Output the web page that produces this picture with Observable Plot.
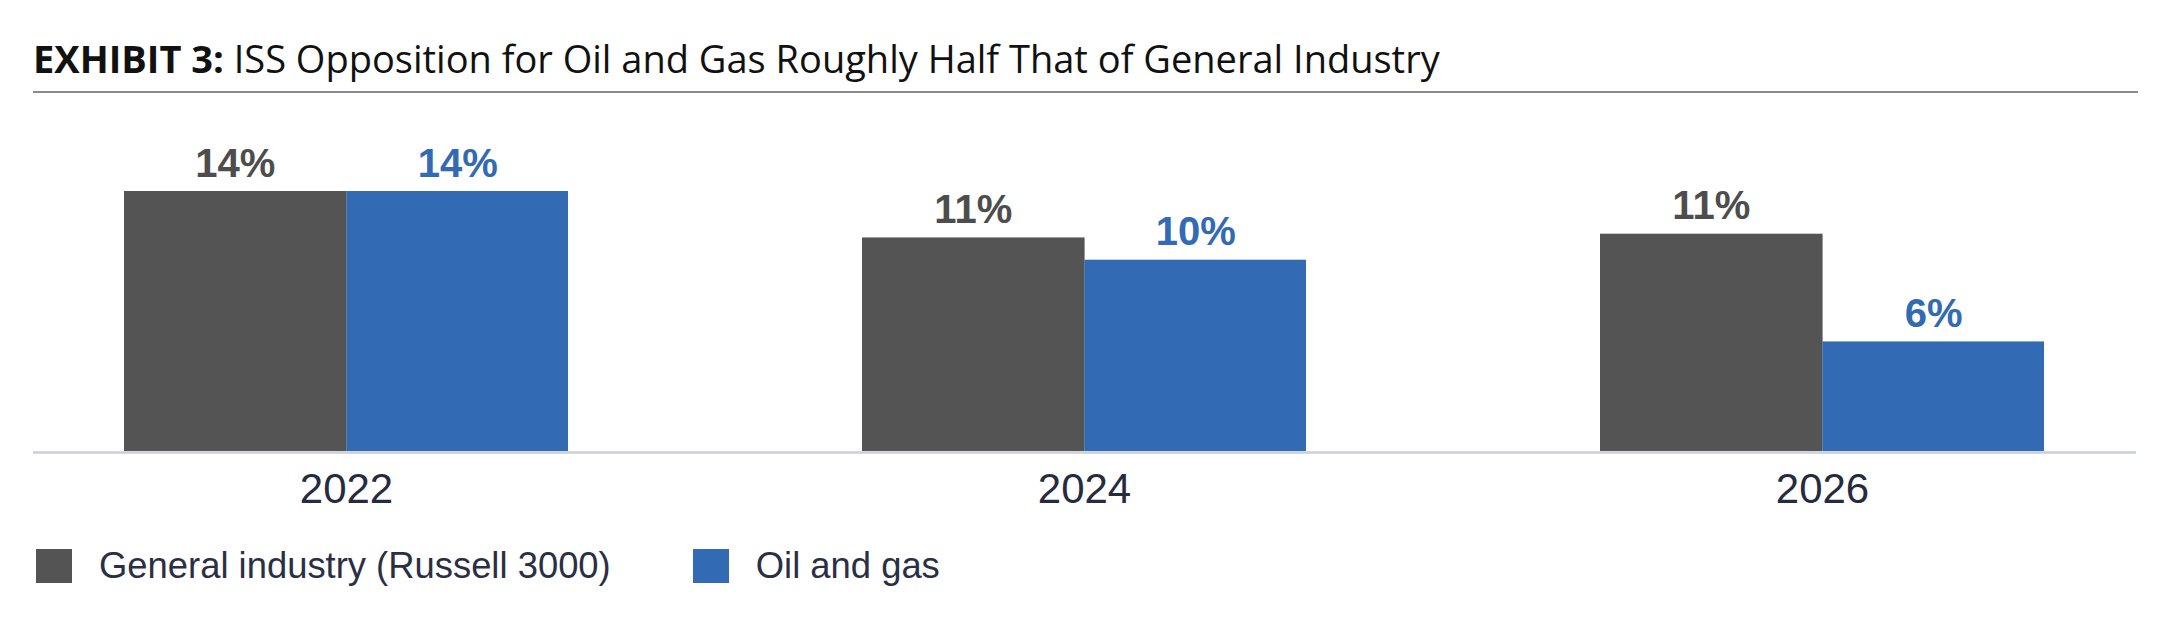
<!DOCTYPE html>
<html><head><meta charset="utf-8">
<script src="https://cdn.jsdelivr.net/npm/d3@7"></script>
<script src="https://cdn.jsdelivr.net/npm/@observablehq/plot@0.6"></script>
<style>
html,body{margin:0;padding:0;background:#fff;width:2170px;height:620px;overflow:hidden;position:relative}
#title{position:absolute;left:33px;top:39px;font-family:"Open Sans",sans-serif;font-size:38px;line-height:1;color:#111;white-space:nowrap}
#title b{font-weight:700}
#rule{position:absolute;left:33px;top:91px;width:2105px;height:2px;background:#8a8a8a}
#chart{position:absolute;left:0;top:100px}
#legend{position:absolute;left:36px;top:545px}
.leg-swatches{font-family:"Liberation Sans",Arial,sans-serif;font-size:36.4px;color:#2b2f45;margin:0;display:flex;align-items:center}
.leg-swatch{margin-right:82px}
.leg-swatch > svg{margin-right:27px}
</style>
</head><body>
<div id="title"><b>EXHIBIT 3:</b> ISS Opposition for Oil and Gas Roughly Half That of General Industry</div>
<div id="rule"></div>
<div id="chart"></div>
<div id="legend"></div>
<script>
const years = ["2022", "2024", "2026"];
const series = ["General industry (Russell 3000)", "Oil and gas"];
const general = [14, 11.5, 11.7];
const oil = [14, 10.3, 5.9];
const generalLabels = ["14%", "11%", "11%"];
const oilLabels = ["14%", "10%", "6%"];
const colors = ["#545454", "#336ab4"];
const labelColors = ["#4d4d4d", "#336ab4"];

const gen = years.map((year, i) => ({year, series: series[0], value: general[i], label: generalLabels[i]}));
const og = years.map((year, i) => ({year, series: series[1], value: oil[i], label: oilLabels[i]}));

const W = 2170, ML = 33, MR = 34, PI = 0.398, PO = 0.122;
const bw = d3.scaleBand().domain(years).range([ML, W - MR]).paddingInner(PI).paddingOuter(PO).bandwidth();
const half = bw / 2;

const chart = Plot.plot({
  width: W,
  height: 431,
  marginLeft: ML,
  marginRight: MR,
  marginTop: 91,
  marginBottom: 80,
  style: {fontFamily: '"Liberation Sans", Arial, sans-serif', background: "white", overflow: "visible"},
  x: {domain: years, paddingInner: PI, paddingOuter: PO, label: null},
  y: {domain: [0, 14], axis: null},
  color: {domain: series, range: colors},
  marks: [
    Plot.barY(gen, {x: "year", y: "value", fill: "series", insetRight: half - 1}),
    Plot.barY(og, {x: "year", y: "value", fill: "series", insetLeft: half}),
    Plot.text(gen, {x: "year", y: "value", text: "label", dx: -half / 2, dy: -15, lineAnchor: "bottom", fill: labelColors[0], fontSize: 40, fontWeight: "bold"}),
    Plot.text(og, {x: "year", y: "value", text: "label", dx: half / 2, dy: -15, lineAnchor: "bottom", fill: labelColors[1], fontSize: 40, fontWeight: "bold"}),
    Plot.ruleY([0], {stroke: "#c9cede", strokeWidth: 2.5, dy: 1}),
    Plot.axisX({fontSize: 42, tickSize: 0, tickPadding: 22, color: "#262b3f", label: null})
  ]
});
document.getElementById("chart").appendChild(chart);

const leg = chart.legend("color", {legend: "swatches", swatchWidth: 36, swatchHeight: 34, className: "leg"});
document.getElementById("legend").appendChild(leg);
</script>
</body></html>
